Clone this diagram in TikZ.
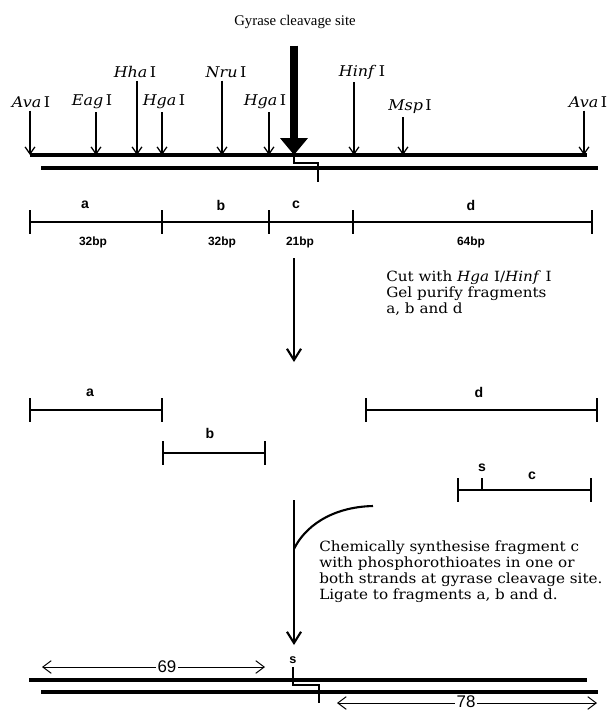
\documentclass[tikz,border=0pt]{standalone}
\usepackage{fontspec}
\setmainfont{DejaVu Serif}[FakeStretch=1.08]
\newfontfamily\labfont{Liberation Sans}
\newfontfamily\headfont{Liberation Serif}
\usetikzlibrary{arrows.meta}

\newcommand{\renz}[1]{\textit{#1}\,I}

\tikzset{
  strand/.style={line width=2.3pt},
  nick/.style={line width=0.8pt},
  cut/.style={line width=0.9pt, -{Straight Barb[length=5pt,width=7pt]}, shorten <=1pt},
  bigcut/.style={line width=5.7pt, -{Triangle[length=12pt,width=19pt]}},
  enz/.style={font=\fontsize{10.5}{12}\selectfont, inner sep=1pt},
  frag/.style={line width=1.7pt},
  lab/.style={font=\labfont\bfseries\fontsize{10}{12}\selectfont, inner sep=0pt},
  bp/.style={font=\labfont\bfseries\fontsize{8.5}{10}\selectfont, inner sep=0pt},
  note/.style={font=\fontsize{10}{11.2}\selectfont, align=left, inner sep=0pt, anchor=north west},
  flow/.style={line width=1.5pt, -{Straight Barb[length=8pt,width=10pt]}},
  span/.style={line width=0.7pt, -{Straight Barb[length=6pt,width=9pt]}},
  len/.style={font=\labfont\fontsize{12}{14}\selectfont, inner sep=1pt, fill=white}
}

\begin{document}
\begin{tikzpicture}[x=0.025cm, y=-0.025cm]
\useasboundingbox (0,0) rectangle (610,712);

% starting duplex with restriction sites
\coordinate (top-l) at (30,155);
\coordinate (top-r) at (587,155);
\coordinate (bot-l) at (41,168);
\coordinate (bot-r) at (598,168);
\draw[strand] (top-l) -- (top-r);
\draw[strand] (bot-l) -- (bot-r);

\foreach \nm/\lab/\lx/\ly/\sx in {ava1/Ava/31/102/30, eag/Eag/92/102/96,
    hha/Hha/135/72/137, hga1/Hga/164/102/162, nru/Nru/226/72/222,
    hga2/Hga/265/102/269, hinf/Hinf/362/72/354, msp/Msp/410/107/403,
    ava2/Ava/588/102/584}{
  \node[enz] (\nm) at (\lx,\ly) {\renz{\lab}};
  \coordinate (\nm-cut) at (\sx,155);
  \draw[cut] (\nm.south -| \nm-cut) -- (\nm-cut);
}

\node[font=\headfont\fontsize{10.5}{12}\selectfont] (gyrase) at (295,22) {Gyrase cleavage site};
\coordinate (gyr-cut) at (294,155);
\draw[bigcut] (gyrase.south -| gyr-cut) ++(0,12) -- (gyr-cut);
\draw[nick] (gyr-cut) -- ++(0,8) -| (318,182);

% fragments a-d
\coordinate (t0) at (30,222);
\coordinate (t1) at (162,222);
\coordinate (t2) at (269,222);
\coordinate (t3) at (353,222);
\coordinate (t4) at (592,222);
\draw[frag] (t0) -- (t4);
\foreach \p in {t0,t1,t2,t3,t4}
  \draw[frag] (\p) ++(0,-12) -- ++(0,24);
\node[lab] (la) at (85,205) {a};
\node[lab] (lb) at (221,205) {b};
\node[lab] (lc) at (296,205) {c};
\node[lab] (ld) at (471,205) {d};
\node[bp] (bpa) at (93,242) {32bp};
\node[bp] (bpb) at (222,242) {32bp};
\node[bp] (bpc) at (300,242) {21bp};
\node[bp] (bpd) at (471,242) {64bp};

\coordinate (cut-top) at (294,258);
\coordinate (cut-end) at (294,362);
\draw[flow] (cut-top) -- (cut-end);
\node[note] (cutnote) at (386,271) {Cut with \textit{Hga} I/\textit{Hinf} I\\
  Gel purify fragments\\a, b and d};

% purified pieces
\coordinate (fa0) at (30,410);  \coordinate (fa1) at (162,410);
\coordinate (fb0) at (163,453); \coordinate (fb1) at (265,453);
\coordinate (fd0) at (366,410); \coordinate (fd1) at (597,410);
\coordinate (fc0) at (458,490); \coordinate (fc1) at (591,490);
\draw[frag] (fa0) -- (fa1);
\draw[frag] (fb0) -- (fb1);
\draw[frag] (fd0) -- (fd1);
\draw[frag] (fc0) -- (fc1);
\foreach \p in {fa0,fa1,fb0,fb1,fd0,fd1,fc0,fc1}
  \draw[frag] (\p) ++(0,-12) -- ++(0,24);
\coordinate (fs) at (482,490);
\draw[frag] (fs) -- ++(0,-12);
\node[lab] (pa) at (90,393) {a};
\node[lab] (pb) at (210,433) {b};
\node[lab] (pd) at (479,392) {d};
\node[lab] (ps) at (482,468) {s};
\node[lab] (pc) at (532,476) {c};

% synthesis and ligation
\coordinate (lig-top) at (294,500);
\coordinate (lig-end) at (294,645);
\coordinate (bend) at (294,549);
\coordinate (synth) at (373,506);
\draw[flow] (lig-top) -- (lig-end);
\draw[line width=1.5pt] (bend) .. controls (304,528) and (330,507) .. (synth);
\node[note] (synnote) at (319,541) {Chemically synthesise fragment c\\
  with phosphorothioates in one or\\
  both strands at gyrase cleavage site.\\
  Ligate to fragments a, b and d.};

% ligated product
\coordinate (new-tl) at (29,680);
\coordinate (new-tr) at (587,680);
\coordinate (new-bl) at (41,692);
\coordinate (new-br) at (598,692);
\draw[strand] (new-tl) -- (new-tr);
\draw[strand] (new-bl) -- (new-br);
\coordinate (new-s) at (293,680);
\draw[line width=1.5pt] (new-s) -- ++(0,-13);
\node[lab, font=\labfont\bfseries\fontsize{9}{10}\selectfont] (ns) at (293,660) {s};
\draw[nick] (new-s) -- ++(0,5) -| (319,703);

\coordinate (l69a) at (42,667);
\coordinate (l69b) at (265,667);
\node[len] (n69) at (167,667) {69};
\draw[span] (n69) -- (l69a);
\draw[span] (n69) -- (l69b);
\coordinate (l78a) at (337,703);
\coordinate (l78b) at (597,703);
\node[len] (n78) at (466,702) {78};
\draw[span] (n78.west |- l78a) -- (l78a);
\draw[span] (n78.east |- l78b) -- (l78b);
\end{tikzpicture}
\end{document}
